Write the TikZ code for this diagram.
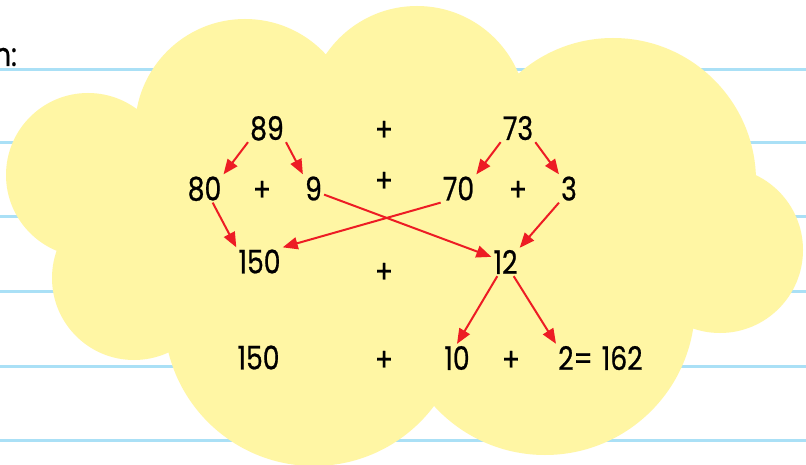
\documentclass[tikz,border=0pt]{standalone}
\usepackage{fontspec}
\setmainfont{Poppins}[FakeStretch=0.82,FakeBold=0.7]
\usetikzlibrary{arrows.meta,calc}
\definecolor{cloudy}{RGB}{255,246,164}
\definecolor{ruleblue}{RGB}{170,224,246}
\definecolor{arrred}{RGB}{237,28,36}
\begin{document}
\begin{tikzpicture}[x=1pt,y=-1pt,
  num/.style={font=\fontsize{32.5}{33}\selectfont, inner sep=2pt, text depth=0pt},
  plus/.style={font=\fontsize{32.5}{33}\selectfont, inner sep=0pt},
  arr/.style={draw=arrred, line width=2pt, -{Triangle[length=15pt,width=12pt,fill=arrred]}}]
\useasboundingbox (0,0) rectangle (806,465);
\fill[white] (0,0) rectangle (806,465);
% ruled lines
\foreach \yy in {70,142.5,217,291,366,440}
  \draw[ruleblue, line width=3pt] (0,\yy) -- (806,\yy);
% cloud
\fill[cloudy]
  (88,175) circle[radius=82pt]
  (134,278) circle[radius=82pt]
  (245,129) circle[radius=110pt]
  (417,116) circle[radius=110pt]
  (613,181) circle[radius=143pt]
  (720,250) circle[radius=83pt]
  (545,305) circle[radius=150pt]
  (314,316) circle[radius=150pt];
\fill[cloudy] (88,175) -- (245,129) -- (417,116) -- (613,181) -- (720,250)
  -- (545,305) -- (314,316) -- (134,278) -- cycle;
% label
\node[num, anchor=base east] (lbl) at (19,66) {n:};
% numbers
\node[num] (n89) at (267,128) {89};
\node[num] (n73) at (518,128) {73};
\node[num] (n80) at (204.5,188.5) {80};
\node[num] (n9) at (313.5,188.5) {9};
\node[num] (n70) at (458.5,188.5) {70};
\node[num] (n3) at (569,188.5) {3};
\node[num] (n150a) at (259.5,261.5) {150};
\node[num] (n12) at (505.5,262) {12};
\node[num] (n150b) at (258.5,357.5) {150};
\node[num] (n10) at (457,358) {10};
\node[num, anchor=west] (n2) at (556,358) {2=\hspace{9pt}162};
% plus signs
\node[plus] (p1) at (384,131) {+};
\node[plus] (p2) at (262,191) {+};
\node[plus] (p3) at (384,182) {+};
\node[plus] (p4) at (518,191) {+};
\node[plus] (p5) at (384,273) {+};
\node[plus] (p6) at (384,361) {+};
\node[plus] (p7) at (511,361) {+};
% arrows
\draw[arr] (n89.south west) -- (n80.north east);
\draw[arr] (n89.south east) -- (n9.north west);
\draw[arr] (n73.south west) -- (n70.north east);
\draw[arr] (n73.south east) -- (n3.north west);
\draw[arr] (n80.-60) -- (n150a.north west);
\draw[arr] (n9.-30) -- (n12.160);
\draw[arr] (n70.south west) -- (n150a.north east);
\draw[arr] (n3.south west) -- (n12.north east);
\draw[arr] (n12.-120) -- (n10.north);
\draw[arr] (n12.-60) -- (n2.north west);
\end{tikzpicture}
\end{document}
